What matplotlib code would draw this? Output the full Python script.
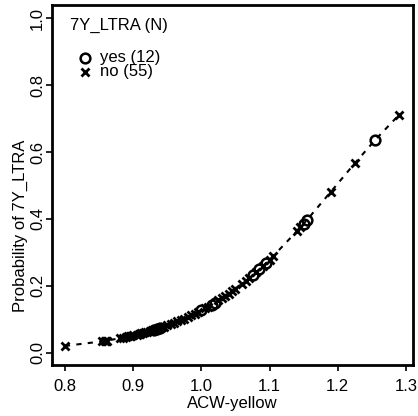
import numpy as np
import matplotlib
matplotlib.use("Agg")
import matplotlib.pyplot as plt

plt.rcParams['font.family'] = ['Liberation Sans', 'DejaVu Sans']
plt.rcParams['font.size'] = 12

# ACW-yellow values and fitted probabilities, outcome "yes"
yes_x = [0.93, 0.935, 0.94, 1.0, 1.015, 1.02, 1.075, 1.085, 1.095, 1.15, 1.155, 1.255]
yes_p = [0.0683, 0.0714, 0.0747, 0.1267, 0.1439, 0.1500, 0.2321, 0.2499, 0.2685, 0.3858, 0.3975, 0.6366]

# outcome "no"
no_x = [0.80, 0.855, 0.858, 0.86, 0.862, 0.88, 0.885, 0.89, 0.893, 0.895,
        0.897, 0.90, 0.905, 0.908, 0.91, 0.912, 0.915, 0.918, 0.92, 0.925,
        0.928, 0.932, 0.938, 0.942, 0.945, 0.95, 0.955, 0.96, 0.965, 0.97,
        0.975, 0.98, 0.985, 0.99, 0.995, 1.005, 1.01, 1.025, 1.03, 1.035,
        1.04, 1.045, 1.05, 1.06, 1.065, 1.07, 1.08, 1.09, 1.10, 1.105,
        1.14, 1.145, 1.19, 1.225, 1.29]
no_p = [0.0202, 0.0340, 0.0350, 0.0356, 0.0363, 0.0430, 0.0451, 0.0472, 0.0486, 0.0495,
        0.0504, 0.0518, 0.0543, 0.0558, 0.0569, 0.0579, 0.0595, 0.0612, 0.0623, 0.0652,
        0.0670, 0.0695, 0.0734, 0.0761, 0.0782, 0.0818, 0.0855, 0.0894, 0.0935, 0.0977,
        0.1021, 0.1067, 0.1114, 0.1163, 0.1214, 0.1322, 0.1380, 0.1563, 0.1629, 0.1697,
        0.1767, 0.1839, 0.1913, 0.2068, 0.2150, 0.2234, 0.2409, 0.2590, 0.2784, 0.2882,
        0.3631, 0.3745, 0.4816, 0.5666, 0.7117]

x_ticks = [0.8, 0.9, 1.0, 1.1, 1.2, 1.3]
y_ticks = [0.0, 0.2, 0.4, 0.6, 0.8, 1.0]

fig = plt.figure(figsize=(4.18, 4.16), dpi=100)
ax = fig.add_axes([52/418, 51/416, 361/418, 360/416])

# dashed curve through all points sorted by x
all_x = np.array(yes_x + no_x)
all_p = np.array(yes_p + no_p)
order = np.argsort(all_x)
ax.plot(all_x[order], all_p[order], color='black', lw=1.5, linestyle=(0, (2.5, 3)))

ax.plot(no_x, no_p, linestyle='none', marker='x', ms=6, mew=2, color='black')
ax.plot(yes_x, yes_p, linestyle='none', marker='o', ms=7, mew=1.8,
        mfc='none', mec='black')

ax.set_xlim(0.781, 1.3103)
ax.set_ylim(-0.0368, 1.0398)
ax.set_xticks(x_ticks)
ax.set_xticklabels(['%.1f' % v for v in x_ticks])
ax.set_yticks(y_ticks)
ax.set_yticklabels(['%.1f' % v for v in y_ticks], rotation=90, va='center')
ax.tick_params(direction='out', length=4, width=1.2, labelsize=12)
ax.tick_params(axis='x', pad=6)
ax.tick_params(axis='y', pad=1)
for s in ax.spines.values():
    s.set_linewidth(2)

fig.text(232.5/418, 8/416, 'ACW-yellow', ha='center', va='baseline', fontsize=12)
fig.text(20/418, (416-226)/416, 'Probability of 7Y_LTRA', rotation=90,
         ha='center', va='center', fontsize=12)

# legend
ax.text(0.05, 0.942, '7Y_LTRA (N)', transform=ax.transAxes, ha='left', va='center')
ax.plot([0.0914], [0.853], transform=ax.transAxes, marker='o', ms=7, mew=1.8,
        mfc='none', mec='black', linestyle='none')
ax.plot([0.0914], [0.814], transform=ax.transAxes, marker='x', ms=6, mew=2,
        color='black', linestyle='none')
ax.text(0.133, 0.853, 'yes (12)', transform=ax.transAxes, ha='left', va='center')
ax.text(0.133, 0.814, 'no (55)', transform=ax.transAxes, ha='left', va='center')

fig.savefig('out.png', dpi=100)
